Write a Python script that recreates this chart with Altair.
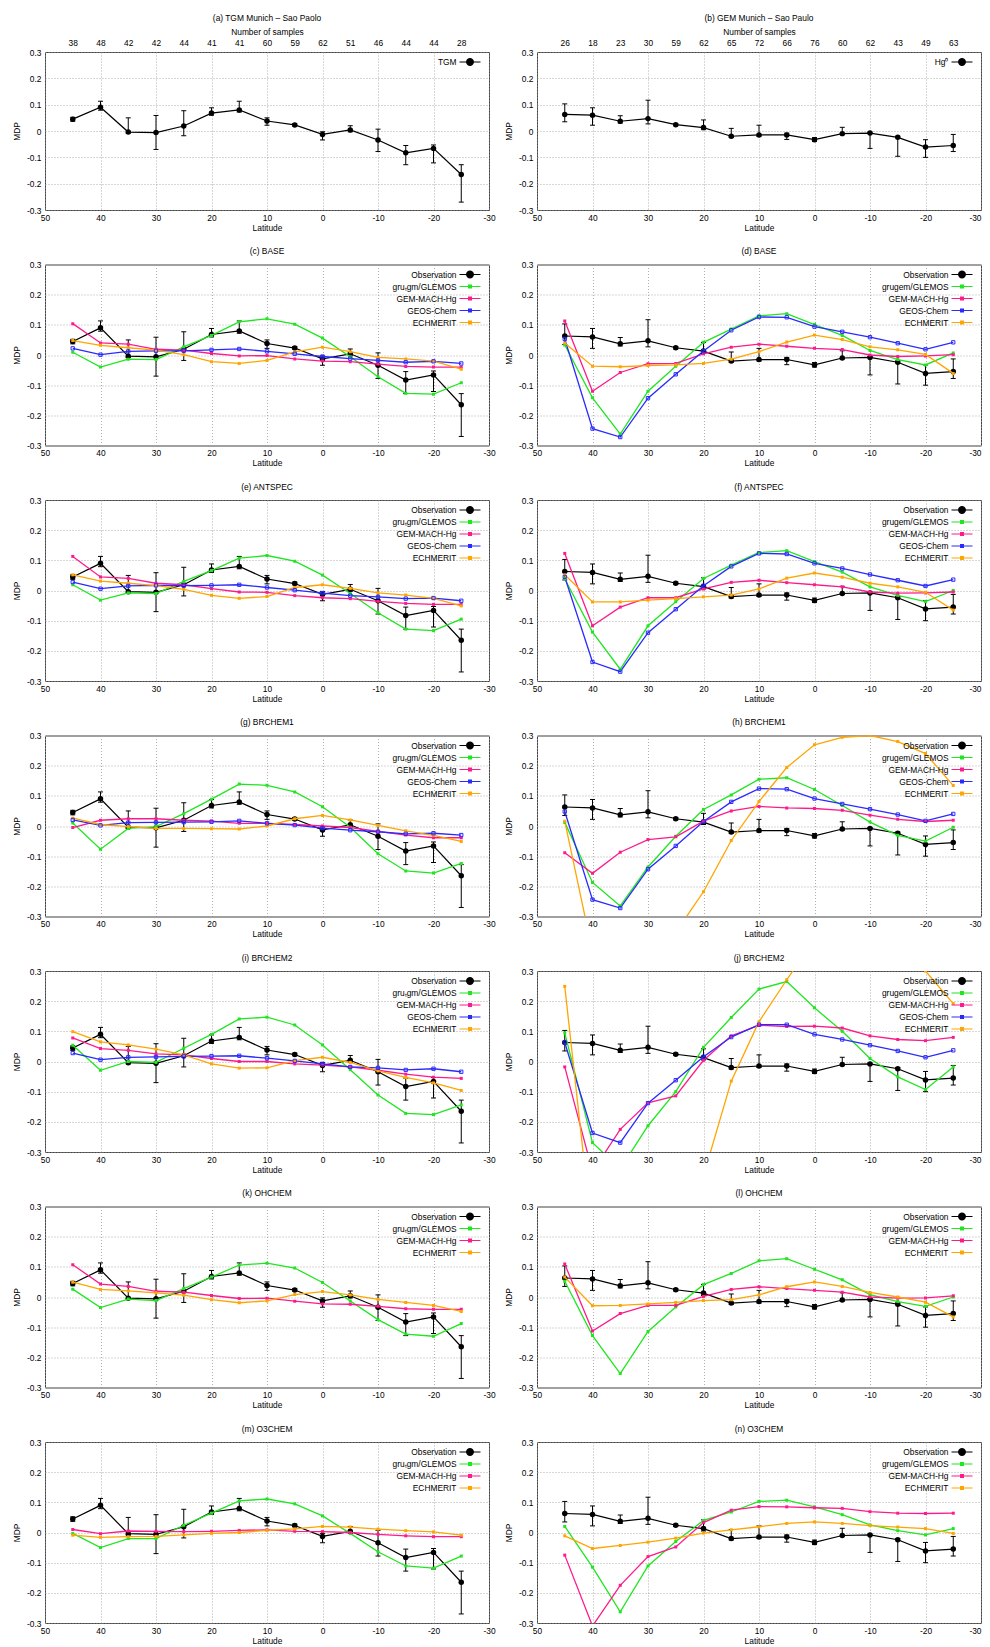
import altair as alt
import pandas as pd

FONT = "Liberation Sans"
FS = 8.4

LAT = [45, 40, 35, 30, 25, 20, 15, 10, 5, 0, -5, -10, -15, -20, -25]
X_TICKS = [50, 40, 30, 20, 10, 0, -10, -20, -30]
Y_TICKS = [-0.3, -0.2, -0.1, 0, 0.1, 0.2, 0.3]

TGM_N = [38, 48, 42, 42, 44, 41, 41, 60, 59, 62, 51, 46, 44, 44, 28]
GEM_N = [26, 18, 23, 30, 59, 62, 65, 72, 66, 76, 60, 62, 43, 49, 63]

TGM_OBS = [0.045, 0.090, -0.004, -0.006, 0.019, 0.068, 0.080, 0.038, 0.023, -0.013, 0.004, -0.034, -0.083, -0.066, -0.165]
TGM_LO = [0.037, 0.079, -0.008, -0.070, -0.018, 0.060, 0.072, 0.022, 0.019, -0.034, -0.003, -0.078, -0.128, -0.121, -0.270]
TGM_HI = [0.052, 0.113, 0.050, 0.059, 0.077, 0.088, 0.113, 0.050, 0.028, -0.003, 0.020, 0.007, -0.055, -0.053, -0.128]

GEM_OBS = [0.063, 0.060, 0.037, 0.047, 0.024, 0.013, -0.020, -0.015, -0.015, -0.033, -0.010, -0.008, -0.024, -0.061, -0.055]
GEM_LO = [0.035, 0.022, 0.030, 0.027, 0.020, 0.005, -0.025, -0.020, -0.032, -0.040, -0.013, -0.066, -0.096, -0.100, -0.078]
GEM_HI = [0.103, 0.088, 0.058, 0.117, 0.028, 0.042, 0.010, 0.022, -0.008, -0.025, 0.014, -0.005, -0.020, -0.033, -0.013]

# model results, one small table per panel (GLEMOS, GEM-MACH-Hg, GEOS-Chem, ECHMERIT)
BASE_TGM = {
    "GLEMOS": [0.009, -0.040, -0.014, -0.015, 0.027, 0.065, 0.110, 0.120, 0.102, 0.056, -0.006, -0.072, -0.127, -0.130, -0.092],
    "GEM-MACH-Hg": [0.104, 0.040, 0.036, 0.019, 0.016, 0.005, -0.003, -0.002, -0.013, -0.020, -0.022, -0.030, -0.038, -0.040, -0.040],
    "GEOS-Chem": [0.022, 0.001, 0.012, 0.014, 0.014, 0.017, 0.020, 0.012, 0.004, -0.005, -0.012, -0.018, -0.024, -0.021, -0.028],
    "ECHMERIT": [0.048, 0.032, 0.024, 0.016, 0.001, -0.022, -0.028, -0.018, 0.010, 0.026, 0.011, -0.008, -0.013, -0.020, -0.047],
}
BASE_GEM = {
    "GLEMOS": [0.033, -0.142, -0.262, -0.120, -0.037, 0.042, 0.086, 0.130, 0.137, 0.101, 0.065, 0.015, -0.015, -0.033, 0.007],
    "GEM-MACH-Hg": [0.113, -0.120, -0.058, -0.029, -0.028, 0.004, 0.026, 0.036, 0.029, 0.022, 0.018, 0.000, -0.005, -0.003, 0.001],
    "GEOS-Chem": [0.053, -0.244, -0.272, -0.143, -0.064, 0.013, 0.082, 0.126, 0.125, 0.094, 0.077, 0.059, 0.039, 0.019, 0.042],
    "ECHMERIT": [0.040, -0.037, -0.039, -0.035, -0.033, -0.028, -0.014, 0.011, 0.043, 0.066, 0.051, 0.027, 0.017, 0.002, -0.061],
}
ANTSPEC_TGM = {
    "GLEMOS": [0.019, -0.032, -0.008, -0.010, 0.030, 0.066, 0.107, 0.116, 0.097, 0.051, -0.010, -0.074, -0.128, -0.133, -0.095],
    "GEM-MACH-Hg": [0.113, 0.045, 0.040, 0.024, 0.019, 0.006, -0.005, -0.006, -0.017, -0.024, -0.027, -0.036, -0.043, -0.046, -0.046],
    "GEOS-Chem": [0.028, 0.006, 0.015, 0.017, 0.016, 0.017, 0.019, 0.010, 0.001, -0.009, -0.017, -0.021, -0.027, -0.025, -0.034],
    "ECHMERIT": [0.052, 0.031, 0.024, 0.016, 0.004, -0.016, -0.026, -0.020, 0.010, 0.019, 0.007, -0.008, -0.015, -0.026, -0.051],
}
ANTSPEC_GEM = {
    "GLEMOS": [0.039, -0.138, -0.261, -0.117, -0.037, 0.040, 0.084, 0.126, 0.132, 0.096, 0.061, 0.012, -0.016, -0.037, 0.000],
    "GEM-MACH-Hg": [0.123, -0.117, -0.055, -0.024, -0.024, 0.005, 0.027, 0.034, 0.026, 0.019, 0.012, -0.005, -0.009, -0.008, -0.005],
    "GEOS-Chem": [0.045, -0.237, -0.269, -0.140, -0.062, 0.016, 0.080, 0.123, 0.121, 0.090, 0.073, 0.053, 0.034, 0.015, 0.036],
    "ECHMERIT": [0.052, -0.038, -0.038, -0.032, -0.027, -0.021, -0.015, 0.005, 0.041, 0.058, 0.044, 0.024, 0.012, -0.006, -0.065],
}
BRCHEM1_TGM = {
    "GLEMOS": [0.010, -0.077, -0.008, -0.002, 0.041, 0.089, 0.139, 0.135, 0.113, 0.064, -0.004, -0.092, -0.149, -0.156, -0.124],
    "GEM-MACH-Hg": [-0.005, 0.019, 0.024, 0.024, 0.019, 0.016, 0.009, 0.009, 0.005, 0.000, -0.005, -0.018, -0.030, -0.039, -0.039],
    "GEOS-Chem": [0.020, 0.002, 0.011, 0.012, 0.013, 0.014, 0.017, 0.009, 0.003, -0.007, -0.014, -0.019, -0.026, -0.024, -0.030],
    "ECHMERIT": [0.026, 0.005, -0.002, -0.008, -0.008, -0.009, -0.010, 0.000, 0.024, 0.035, 0.020, 0.002, -0.016, -0.031, -0.051],
}
BRCHEM1_GEM = {
    "GLEMOS": [0.012, -0.187, -0.265, -0.136, -0.034, 0.055, 0.103, 0.155, 0.160, 0.121, 0.068, 0.013, -0.031, -0.050, -0.004],
    "GEM-MACH-Hg": [-0.089, -0.157, -0.087, -0.045, -0.036, 0.016, 0.050, 0.065, 0.060, 0.058, 0.052, 0.036, 0.022, 0.015, 0.019],
    "GEOS-Chem": [0.048, -0.244, -0.272, -0.143, -0.066, 0.015, 0.080, 0.124, 0.122, 0.091, 0.073, 0.056, 0.038, 0.017, 0.040],
    "ECHMERIT": [0.016, -0.417, -0.550, -0.500, -0.352, -0.218, -0.048, 0.081, 0.194, 0.269, 0.294, 0.300, 0.280, 0.240, 0.134],
}
BRCHEM2_TGM = {
    "GLEMOS": [0.054, -0.029, 0.000, -0.003, 0.044, 0.090, 0.141, 0.147, 0.121, 0.055, -0.027, -0.111, -0.172, -0.176, -0.144],
    "GEM-MACH-Hg": [0.078, 0.043, 0.037, 0.025, 0.022, 0.010, 0.000, 0.000, -0.008, -0.012, -0.018, -0.029, -0.042, -0.052, -0.056],
    "GEOS-Chem": [0.028, 0.006, 0.014, 0.015, 0.017, 0.018, 0.019, 0.011, 0.002, -0.008, -0.018, -0.021, -0.028, -0.024, -0.034],
    "ECHMERIT": [0.099, 0.065, 0.055, 0.041, 0.022, -0.008, -0.022, -0.021, 0.003, 0.014, -0.003, -0.031, -0.053, -0.071, -0.096],
}
BRCHEM2_GEM = {
    "GLEMOS": [0.095, -0.269, -0.356, -0.213, -0.100, 0.047, 0.146, 0.240, 0.265, 0.178, 0.100, 0.010, -0.051, -0.093, -0.018],
    "GEM-MACH-Hg": [-0.018, -0.365, -0.225, -0.137, -0.114, 0.004, 0.085, 0.120, 0.116, 0.117, 0.111, 0.085, 0.073, 0.069, 0.080],
    "GEOS-Chem": [0.063, -0.237, -0.269, -0.138, -0.062, 0.016, 0.081, 0.122, 0.122, 0.090, 0.073, 0.054, 0.035, 0.014, 0.037],
    "ECHMERIT": [0.249, -0.583, -0.700, -0.700, -0.600, -0.379, -0.065, 0.132, 0.271, 0.403, 0.500, 0.500, 0.450, 0.300, 0.192],
}
OHCHEM_TGM = {
    "GLEMOS": [0.026, -0.035, -0.007, -0.012, 0.028, 0.066, 0.106, 0.112, 0.096, 0.048, -0.013, -0.075, -0.123, -0.130, -0.088],
    "GEM-MACH-Hg": [0.107, 0.043, 0.035, 0.019, 0.016, 0.005, -0.005, -0.004, -0.014, -0.023, -0.024, -0.031, -0.039, -0.041, -0.041],
    "ECHMERIT": [0.049, 0.025, 0.020, 0.014, 0.006, -0.009, -0.019, -0.013, 0.008, 0.018, 0.007, -0.008, -0.018, -0.028, -0.048],
}
OHCHEM_GEM = {
    "GLEMOS": [0.052, -0.128, -0.254, -0.114, -0.033, 0.041, 0.078, 0.120, 0.127, 0.092, 0.057, 0.008, -0.015, -0.031, 0.000],
    "GEM-MACH-Hg": [0.109, -0.113, -0.055, -0.028, -0.028, 0.002, 0.025, 0.034, 0.028, 0.022, 0.016, 0.000, -0.004, -0.003, 0.004],
    "ECHMERIT": [0.066, -0.029, -0.028, -0.023, -0.018, -0.012, -0.009, 0.007, 0.034, 0.050, 0.035, 0.015, 0.000, -0.017, -0.066],
}
O3CHEM_TGM = {
    "GLEMOS": [-0.003, -0.050, -0.020, -0.020, 0.024, 0.064, 0.105, 0.111, 0.095, 0.055, -0.003, -0.064, -0.111, -0.118, -0.078],
    "GEM-MACH-Hg": [0.010, -0.004, 0.005, 0.004, 0.003, 0.004, 0.007, 0.009, 0.004, 0.003, 0.000, -0.006, -0.011, -0.014, -0.014],
    "ECHMERIT": [-0.009, -0.016, -0.014, -0.013, -0.008, -0.003, 0.000, 0.007, 0.012, 0.020, 0.018, 0.011, 0.006, 0.002, -0.009],
}
O3CHEM_GEM = {
    "GLEMOS": [0.020, -0.115, -0.263, -0.111, -0.030, 0.040, 0.068, 0.103, 0.107, 0.085, 0.059, 0.025, 0.006, -0.008, 0.013],
    "GEM-MACH-Hg": [-0.075, -0.310, -0.175, -0.080, -0.048, 0.033, 0.074, 0.086, 0.085, 0.082, 0.080, 0.069, 0.064, 0.063, 0.064],
    "ECHMERIT": [-0.011, -0.053, -0.043, -0.032, -0.019, -0.002, 0.009, 0.019, 0.030, 0.035, 0.030, 0.023, 0.018, 0.013, -0.003],
}

MODEL_COLORS = {"GLEMOS": "#1fe61f", "GEM-MACH-Hg": "#ff1a8c", "GEOS-Chem": "#2a2aff", "ECHMERIT": "#ffa500"}

# legend glyphs: line sample with marker (extra moveTo points only widen the bounds)
OBS_SHAPE = ("M-19,0M2.73,0M-2.1,-0.12H-0.791A0.8,0.8,0,0,1,0.791,-0.12H2.1V0.12H0.791"
             "A0.8,0.8,0,0,1,-0.791,0.12H-2.1Z")
SQ_SHAPE = "M-19,0M2.73,0M-2.1,-0.12H-0.4V-0.4H0.4V-0.12H2.1V0.12H0.4V0.4H-0.4V0.12H-2.1Z"

W = 444
H = 181
H1 = 158

XS = alt.Scale(domain=[50, -30], nice=False, zero=False)
YS = alt.Scale(domain=[-0.3, 0.3], nice=False, zero=False)

Y_AX = alt.Axis(values=Y_TICKS, title="MDP", labelExpr="'' + datum.value",
                labelFlush=False, labelOverlap=False, grid=True)


def x_axis(right):
    kw = dict(values=X_TICKS, title="Latitude", labelExpr="'' + datum.value",
              labelFlush=False, labelOverlap=False, grid=True)
    if right:
        kw["labelAlign"] = {"condition": {"test": "datum.value === -30", "value": "right"},
                            "value": "center"}
    return alt.Axis(**kw)


def legend():
    return alt.Legend(title=None, orient="top-right", offset=5, padding=0,
                      labelAlign="right", labelOffset={"expr": "-18.5"}, labelFont=FONT,
                      labelFontSize=FS, labelColor="#000", symbolSize=100,
                      symbolStrokeWidth=0, symbolOpacity=1, rowPadding=2,
                      labelLimit=300)


def panel(title, obs_label, obs, lo, hi, glemos_label=None, models=None,
          height=H, samples=None, right=False):
    obs_df = pd.DataFrame({"lat": LAT, "v": obs, "lo": lo, "hi": hi})
    names, colors, rows = [], [], []
    for key, vals in (models or {}).items():
        name = glemos_label if key == "GLEMOS" else key
        names.append(name)
        colors.append(MODEL_COLORS[key])
        for la, v in zip(LAT, vals):
            rows.append({"lat": la, "v": v, "series": name, "geos": key == "GEOS-Chem"})
    domain = [obs_label] + names
    crange = ["#000000"] + colors
    sscale = alt.Scale(domain=domain, range=[OBS_SHAPE] + [SQ_SHAPE] * len(names))

    x = alt.X("lat:Q", scale=XS, axis=x_axis(right))
    y = alt.Y("v:Q", scale=YS, axis=Y_AX)

    base = alt.Chart(obs_df)
    layers = [
        base.mark_line(color="#000", strokeWidth=1.2).encode(x=x, y=y),
        base.mark_rule(color="#000", strokeWidth=1).encode(
            x=x, y=alt.Y("lo:Q", scale=YS, axis=Y_AX), y2="hi:Q"),
        base.mark_tick(color="#000", orient="horizontal", size=5, thickness=1, opacity=1).encode(
            x=x, y=alt.Y("lo:Q", scale=YS, axis=Y_AX)),
        base.mark_tick(color="#000", orient="horizontal", size=5, thickness=1, opacity=1).encode(
            x=x, y=alt.Y("hi:Q", scale=YS, axis=Y_AX)),
        base.mark_circle(color="#000", size=30, opacity=1).encode(x=x, y=y),
    ]
    if rows:
        mdf = alt.Chart(pd.DataFrame(rows))
        # model-only scale (its domain differs from the legend's, so the legends stay apart)
        sc = alt.Scale(domain=names, range=colors)
        layers += [
            mdf.mark_line(clip=True, strokeWidth=1.3).encode(
                x=x, y=y, stroke=alt.Stroke("series:N", scale=sc, legend=None)),
            mdf.transform_filter("!datum.geos").mark_square(clip=True, size=9, opacity=1).encode(
                x=x, y=y, fill=alt.Fill("series:N", scale=sc, legend=None)),
            mdf.transform_filter("datum.geos").mark_point(
                clip=True, shape="square", filled=False, size=11, strokeWidth=1, opacity=1).encode(
                x=x, y=y, stroke=alt.Stroke("series:N", scale=sc, legend=None)),
        ]
    leg_df = pd.DataFrame({"series": domain})
    layers.append(
        alt.Chart(leg_df).transform_filter("false").mark_point(filled=True, opacity=1).encode(
            color=alt.Color("series:N", scale=alt.Scale(domain=domain, range=crange), legend=legend()),
            shape=alt.Shape("series:N", scale=sscale, legend=legend()),
        )
    )
    inner = alt.layer(*layers)
    if samples is not None:
        expr = "[" + ",".join("'%d'" % n for n in samples) + "][round((%d - datum.value) / 5)]" % LAT[0]
        top = alt.Chart(obs_df).transform_filter("false").mark_point().encode(
            x=alt.X("lat:Q", scale=XS, axis=alt.Axis(
                orient="top", values=LAT, labelExpr=expr, title="Number of samples",
                grid=False, labelFlush=False, labelOverlap=False,
                labelPadding=5, titlePadding=2)))
        ch = alt.layer(inner, top).resolve_axis(x="independent")
    else:
        ch = inner
    return ch.properties(width=W, height=height, title=title)


INDEP = dict(color="independent", shape="independent", fill="independent",
             stroke="independent", x="independent", y="independent")


def row(a, b):
    return alt.hconcat(a, b, spacing=8).resolve_scale(**INDEP)


GL_L = "gruₜgm/GLEMOS"
GL_R = "grugem/GLEMOS"

rows = [
    row(panel("(a) TGM Munich – Sao Paolo", "TGM", TGM_OBS, TGM_LO, TGM_HI, height=H1, samples=TGM_N),
        panel("(b) GEM Munich – Sao Paulo", "Hg⁰", GEM_OBS, GEM_LO, GEM_HI, height=H1, samples=GEM_N,
              right=True)),
    row(panel("(c) BASE", "Observation", TGM_OBS, TGM_LO, TGM_HI, GL_L, BASE_TGM),
        panel("(d) BASE", "Observation", GEM_OBS, GEM_LO, GEM_HI, GL_R, BASE_GEM, right=True)),
    row(panel("(e) ANTSPEC", "Observation", TGM_OBS, TGM_LO, TGM_HI, GL_L, ANTSPEC_TGM),
        panel("(f) ANTSPEC", "Observation", GEM_OBS, GEM_LO, GEM_HI, GL_R, ANTSPEC_GEM, right=True)),
    row(panel("(g) BRCHEM1", "Observation", TGM_OBS, TGM_LO, TGM_HI, GL_L, BRCHEM1_TGM),
        panel("(h) BRCHEM1", "Observation", GEM_OBS, GEM_LO, GEM_HI, GL_R, BRCHEM1_GEM, right=True)),
    row(panel("(i) BRCHEM2", "Observation", TGM_OBS, TGM_LO, TGM_HI, GL_L, BRCHEM2_TGM),
        panel("(j) BRCHEM2", "Observation", GEM_OBS, GEM_LO, GEM_HI, GL_R, BRCHEM2_GEM, right=True)),
    row(panel("(k) OHCHEM", "Observation", TGM_OBS, TGM_LO, TGM_HI, GL_L, OHCHEM_TGM),
        panel("(l) OHCHEM", "Observation", GEM_OBS, GEM_LO, GEM_HI, GL_R, OHCHEM_GEM, right=True)),
    row(panel("(m) O3CHEM", "Observation", TGM_OBS, TGM_LO, TGM_HI, GL_L, O3CHEM_TGM),
        panel("(n) O3CHEM", "Observation", GEM_OBS, GEM_LO, GEM_HI, GL_R, O3CHEM_GEM, right=True)),
]

chart = (
    alt.vconcat(*rows, spacing=13.5)
    .resolve_scale(**INDEP)
    .properties(padding={"left": 4, "top": 5, "right": 0, "bottom": 0})
    .configure(font=FONT)
    .configure_axis(labelFont=FONT, labelFontSize=FS, labelColor="#000", titleFont=FONT,
                    titleFontSize=FS, titleFontWeight="normal", titleColor="#000",
                    domain=False, ticks=False, gridColor="#9a9a9a", gridDash=[1, 2],
                    gridWidth=0.8)
    .configure_axisX(labelPadding=3, titlePadding=2)
    .configure_axisY(labelPadding=4, titlePadding=5)
    .configure_title(font=FONT, fontSize=FS, fontWeight="normal", color="#000", offset=5,
                     anchor="middle")
    .configure_view(stroke="#444", strokeWidth=1)
)

chart.save("out.html", embed_options={"renderer": "svg", "actions": False})
